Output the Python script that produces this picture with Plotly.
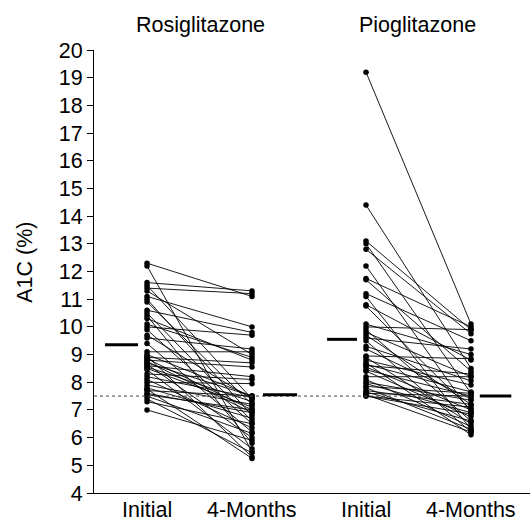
import plotly.graph_objects as go

# ---- data ----
groups = ["Rosiglitazone", "Pioglitazone"]
time_labels = ["Initial", "4-Months", "Initial", "4-Months"]

rosi_initial = [12.3, 12.2, 11.6, 11.4, 11.3, 11.1, 10.9, 10.6, 10.4, 10.3, 10.0, 9.9,
                9.7, 9.6, 9.4, 9.1, 9.0, 8.95, 8.9, 8.85, 8.8, 8.75, 8.7, 8.65, 8.6,
                8.55, 8.5, 8.45, 8.3, 8.2, 8.1, 8.0, 7.9, 7.8, 7.75, 7.7, 7.6, 7.55,
                7.5, 7.4, 7.3, 7.0, 11.5, 10.5, 10.1, 11.0]
rosi_4mo = [11.1, 5.5, 11.3, 11.2, 9.0, 10.0, 7.2, 9.8, 5.8, 8.8, 9.7, 6.5,
            7.4, 9.2, 6.2, 9.1, 7.5, 5.3, 8.7, 7.0, 8.55, 6.9, 7.5, 6.0, 8.2,
            7.3, 7.1, 5.6, 8.1, 7.45, 6.35, 7.95, 7.2, 6.7, 5.25, 7.5, 6.9, 7.0,
            6.15, 5.45, 6.5, 5.9, 7.4, 6.6, 8.9, 6.8]

pio_initial = [19.2, 14.4, 13.1, 13.0, 12.8, 12.2, 11.75, 11.7, 11.2, 11.1, 10.8, 10.75,
               10.0, 9.9, 9.8, 9.7, 9.6, 9.5, 9.3, 9.2, 8.95, 8.9, 8.8, 8.7, 8.6,
               8.55, 8.45, 8.4, 8.2, 8.1, 8.0, 7.95, 7.85, 7.8, 7.7, 7.65, 7.6, 7.55,
               7.5, 7.5, 10.1, 8.65]
pio_4mo = [10.1, 8.5, 9.9, 7.6, 9.75, 6.9, 10.0, 8.4, 9.5, 6.3, 8.8, 7.0,
           9.9, 6.6, 8.2, 7.2, 9.2, 6.2, 8.05, 7.4, 8.85, 6.5, 7.9, 6.1, 8.3,
           7.0, 7.5, 6.75, 8.2, 6.4, 7.35, 6.9, 7.6, 6.3, 7.2, 6.6, 7.5, 6.2,
           6.85, 7.1, 9.0, 7.65]

mean_values = [9.35, 7.55, 9.55, 7.5]   # Rosi initial, Rosi 4-mo, Pio initial, Pio 4-mo
target_line = 7.5

# ---- layout positions ----
xpos = [1.0, 2.0, 3.086, 4.086]
mean_bar_x = [(0.60, 0.914), (2.105, 2.43), (2.715, 3.0), (4.17, 4.47)]
x_range = [0.495, 4.648]

FONT = "Liberation Sans, Arial, sans-serif"
FS = 21.5
fig = go.Figure()

def add_pairs(x0, x1, a, b):
    xs, ys = [], []
    for u, v in zip(a, b):
        xs += [x0, x1, None]
        ys += [u, v, None]
    fig.add_trace(go.Scatter(x=xs, y=ys, mode="lines",
                             line=dict(color="black", width=0.9),
                             hoverinfo="skip", showlegend=False))
    fig.add_trace(go.Scatter(x=[x0] * len(a) + [x1] * len(b), y=list(a) + list(b),
                             mode="markers", marker=dict(color="black", size=5.5),
                             showlegend=False))

add_pairs(xpos[0], xpos[1], rosi_initial, rosi_4mo)
add_pairs(xpos[2], xpos[3], pio_initial, pio_4mo)

# dotted reference line
fig.add_trace(go.Scatter(x=[x_range[0], 4.08], y=[target_line, target_line], mode="lines",
                         line=dict(color="#444444", width=1, dash="dot"),
                         showlegend=False, hoverinfo="skip"))

# mean bars
for (a, b), m in zip(mean_bar_x, mean_values):
    fig.add_trace(go.Scatter(x=[a, b], y=[m, m], mode="lines",
                             line=dict(color="black", width=3),
                             showlegend=False, hoverinfo="skip"))

# group titles
title_x = [1.505, 3.581]
for g, tx in zip(groups, title_x):
    fig.add_annotation(x=tx, y=1.056, xref="x", yref="paper", text=g, showarrow=False,
                       font=dict(family=FONT, size=FS, color="black"),
                       xanchor="center", yanchor="middle")

# x category labels
for lab, xp in zip(time_labels, xpos):
    fig.add_annotation(x=xp, y=-0.038, xref="x", yref="paper", text=lab, showarrow=False,
                       font=dict(family=FONT, size=FS, color="black"),
                       xanchor="center", yanchor="middle")

# y axis title
fig.add_annotation(x=-0.158, y=0.52, xref="paper", yref="paper", text="A1C (%)",
                   textangle=-90, showarrow=False,
                   font=dict(family=FONT, size=FS, color="black"),
                   xanchor="center", yanchor="middle")

fig.update_layout(
    width=530, height=521,
    margin=dict(l=94, r=0, t=50, b=28, autoexpand=False),
    paper_bgcolor="white", plot_bgcolor="white",
    font=dict(family=FONT, size=FS, color="black"),
    showlegend=False,
)
fig.update_xaxes(range=x_range, showticklabels=False, ticks="",
                 showline=True, linecolor="black", linewidth=1, showgrid=False,
                 zeroline=False, automargin=False)
fig.update_yaxes(range=[4, 20], dtick=1, tick0=4, ticks="outside", ticklen=6,
                 tickcolor="black", showline=True, linecolor="black", linewidth=1,
                 showgrid=False, zeroline=False, automargin=False,
                 tickfont=dict(family=FONT, size=FS, color="black"))

fig.write_html("out.html", config={"displayModeBar": False},
               post_script="document.body.style.margin='0';document.body.style.overflow='hidden';")
